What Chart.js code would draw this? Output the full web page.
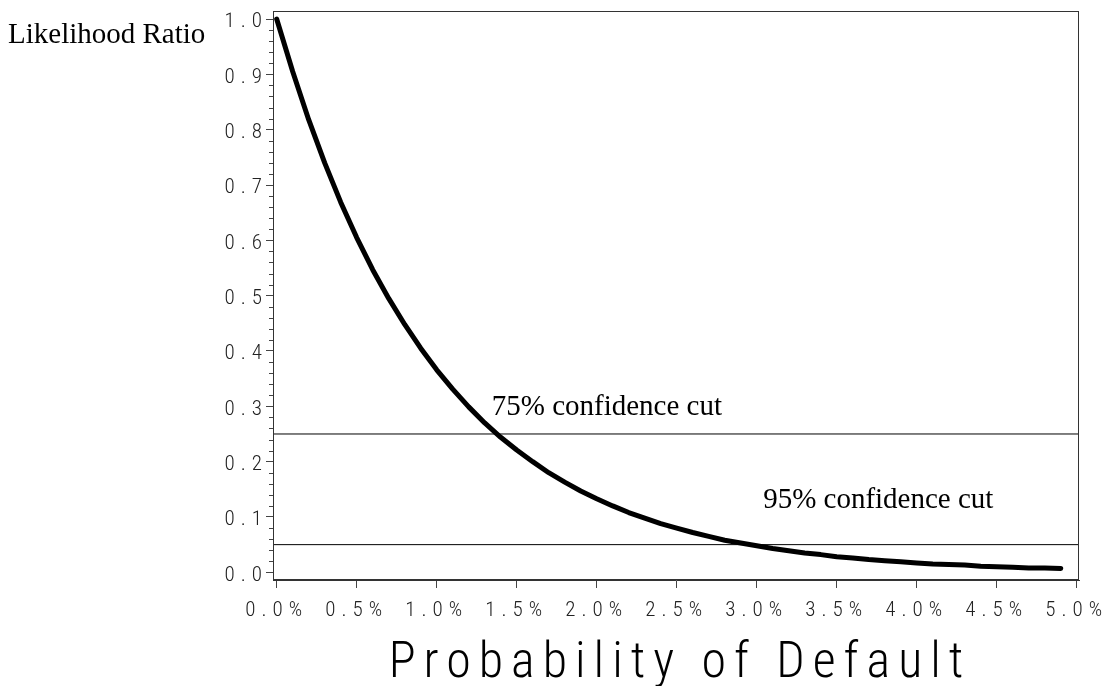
<!DOCTYPE html>
<html lang="en">
<head>
  <meta charset="UTF-8" />
  <title>Likelihood Ratio vs Probability of Default</title>
  <script src="https://cdn.jsdelivr.net/npm/chart.js"></script>
  <style>
    body, html { margin: 0; padding: 0; background: #fff; }
    #wrap { width: 1102px; height: 686px; }
  </style>
</head>
<body>
  <div id="wrap"><canvas id="lrChart"></canvas></div>

  <script>
    // probability of default (%) and likelihood ratio
    const pd = [0.0, 0.1, 0.2, 0.3, 0.4, 0.5, 0.6, 0.7, 0.8, 0.9,
                1.0, 1.1, 1.2, 1.3, 1.4, 1.5, 1.6, 1.7, 1.8, 1.9,
                2.0, 2.1, 2.2, 2.3, 2.4, 2.5, 2.6, 2.7, 2.8, 2.9,
                3.0, 3.1, 3.2, 3.3, 3.4, 3.5, 3.6, 3.7, 3.8, 3.9,
                4.0, 4.1, 4.2, 4.3, 4.4, 4.5, 4.6, 4.7, 4.8, 4.9];
    const lr = [1.000, 0.905, 0.818, 0.740, 0.669, 0.605, 0.547, 0.495, 0.448, 0.405,
                0.366, 0.331, 0.299, 0.270, 0.244, 0.221, 0.200, 0.180, 0.163, 0.147,
                0.133, 0.120, 0.108, 0.098, 0.088, 0.080, 0.072, 0.065, 0.058, 0.053,
                0.048, 0.043, 0.039, 0.035, 0.032, 0.028, 0.026, 0.023, 0.021, 0.019,
                0.017, 0.015, 0.014, 0.013, 0.011, 0.010, 0.009, 0.008, 0.008, 0.007];

    const cutLevels = [0.25, 0.05];
    const cutLabels = ['75% confidence cut', '95% confidence cut'];

    const xTicks = [0.0, 0.5, 1.0, 1.5, 2.0, 2.5, 3.0, 3.5, 4.0, 4.5, 5.0];
    const yTicks = [0.0, 0.1, 0.2, 0.3, 0.4, 0.5, 0.6, 0.7, 0.8, 0.9, 1.0];
    const yMinorStep = 0.02;

    const X_MIN = -0.023, X_MAX = 5.014;
    const Y_MIN = -0.0139, Y_MAX = 1.0145;

    // where the cut labels sit (data coords: left edge, baseline)
    const labelPos = [{ x: 1.344, y: 0.284 }, { x: 3.04, y: 0.116 }];

    const narrow = "'Roboto Condensed', 'DejaVu Sans Condensed', sans-serif";
    const serif = "'Liberation Serif', 'Times New Roman', serif";

    const sasLook = {
      id: 'sasLook',
      beforeUpdate(chart) { chart.ctx.letterSpacing = '6px'; },
      beforeDraw(chart) { chart.ctx.letterSpacing = '6px'; },
      afterDraw(chart) {
        const ctx = chart.ctx;
        const a = chart.chartArea;
        const xs = chart.scales.x, ys = chart.scales.y;
        ctx.save();

        // frame
        ctx.strokeStyle = '#333';
        ctx.lineWidth = 1;
        ctx.strokeRect(a.left + 0.5, a.top + 0.5, a.right - a.left - 1, a.bottom - a.top - 1);

        // minor ticks on y
        ctx.beginPath();
        for (let v = 0; v <= 1.0001; v += yMinorStep) {
          if (Math.abs(v * 10 - Math.round(v * 10)) < 1e-6) continue;
          const y = Math.round(ys.getPixelForValue(v)) + 0.5;
          ctx.moveTo(a.left - 4, y);
          ctx.lineTo(a.left, y);
        }
        ctx.strokeStyle = '#444';
        ctx.stroke();

        // cut labels
        ctx.letterSpacing = '0px';
        ctx.fillStyle = '#000';
        ctx.font = '29px ' + serif;
        ctx.textAlign = 'left';
        ctx.textBaseline = 'alphabetic';
        cutLabels.forEach((t, i) => {
          ctx.fillText(t, xs.getPixelForValue(labelPos[i].x), ys.getPixelForValue(labelPos[i].y));
        });

        // y title, horizontal at top-left
        ctx.fillText('Likelihood Ratio', 8, 43);

        // x title
        ctx.font = '300 50px ' + narrow;
        ctx.letterSpacing = '8px';
        ctx.textAlign = 'center';
        ctx.fillText('Probability of Default', (a.left + a.right) / 2 + 4, 677);
        ctx.restore();
      }
    };

    const curve = pd.map((p, i) => ({ x: p, y: lr[i] }));
    const cutSets = cutLevels.map(c => ({
      data: [{ x: X_MIN, y: c }, { x: X_MAX, y: c }],
      borderColor: '#000',
      borderWidth: 1,
      pointRadius: 0
    }));

    const noPad = s => { s.paddingTop = 0; s.paddingBottom = 0; s.paddingLeft = 0; s.paddingRight = 0; };

    new Chart(document.getElementById('lrChart'), {
      type: 'line',
      data: {
        datasets: [
          {
            data: curve,
            borderColor: '#000',
            borderWidth: 5,
            borderCapStyle: 'round',
            borderJoinStyle: 'round',
            pointRadius: 0,
            tension: 0
          },
          ...cutSets
        ]
      },
      options: {
        responsive: true,
        maintainAspectRatio: false,
        animation: false,
        layout: { padding: { top: 11, right: 23, left: 0, bottom: 0 } },
        plugins: { legend: { display: false }, tooltip: { enabled: false } },
        scales: {
          x: {
            type: 'linear',
            min: X_MIN,
            max: X_MAX,
            afterBuildTicks: s => { s.ticks = xTicks.map(v => ({ value: v })); },
            afterFit: s => { s.height = 106; noPad(s); },
            ticks: {
              color: '#222',
              font: { family: narrow, size: 21, weight: '300' },
              padding: 10,
              maxRotation: 0,
              autoSkip: false,
              callback: v => v.toFixed(1) + '%'
            },
            grid: { drawOnChartArea: false, tickLength: 8, tickColor: '#444' },
            border: { color: '#333' }
          },
          y: {
            type: 'linear',
            min: Y_MIN,
            max: Y_MAX,
            afterBuildTicks: s => { s.ticks = yTicks.map(v => ({ value: v })); },
            afterFit: s => { s.width = 273; noPad(s); },
            ticks: {
              color: '#222',
              font: { family: narrow, size: 21, weight: '300' },
              padding: -2,
              labelOffset: 3,
              autoSkip: false,
              callback: v => v.toFixed(1)
            },
            grid: { drawOnChartArea: false, tickLength: 7, tickColor: '#444' },
            border: { color: '#333' }
          }
        }
      },
      plugins: [sasLook]
    });
  </script>
</body>
</html>
